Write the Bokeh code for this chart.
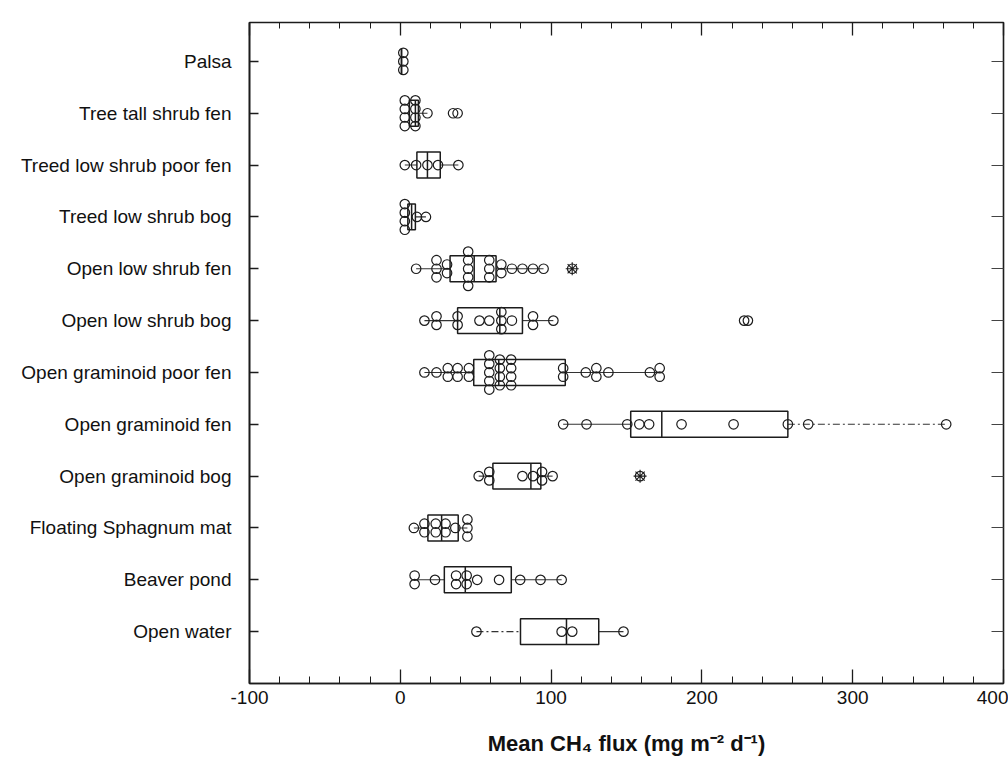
from bokeh.plotting import figure
from bokeh.models import ColumnDataSource, FixedTicker, LinearAxis
from bokeh.embed import file_html
from bokeh.resources import INLINE

# Peatland / water cover classes, top to bottom
categories = [
    "Palsa", "Tree tall shrub fen", "Treed low shrub poor fen", "Treed low shrub bog",
    "Open low shrub fen", "Open low shrub bog", "Open graminoid poor fen",
    "Open graminoid fen", "Open graminoid bog", "Floating Sphagnum mat",
    "Beaver pond", "Open water",
]

# Mean CH4 flux per site (mg m-2 d-1); repeated values are stacked dots
palsa = [2, 2, 2]
tree_tall_shrub_fen = [3, 3, 3, 3, 10, 10, 10, 10, 18, 35, 38]
treed_low_shrub_poor_fen = [3, 10.5, 18, 25, 38.5]
treed_low_shrub_bog = [3, 3, 3, 3, 11, 17]
open_low_shrub_fen = [10.5, 24, 24, 24, 31, 31, 45, 45, 45, 45, 45, 59, 59, 59,
                      67, 67, 74, 81, 88, 95, 114]
open_low_shrub_bog = [16, 24, 24, 38, 38, 52.5, 59, 67, 67, 67, 74, 88, 88, 101.5,
                      228, 230.5]
open_graminoid_poor_fen = [16, 24, 31.5, 31.5, 38, 38, 45.5, 45.5, 59, 59, 59, 59, 59,
                           66, 66, 66, 66, 73.5, 73.5, 73.5, 73.5, 108, 108, 123,
                           130, 130, 138, 165.5, 172, 172]
open_graminoid_fen = [108, 123.5, 150.5, 158.5, 165, 186.5, 221, 257, 270.5, 362]
open_graminoid_bog = [52, 59, 59, 81, 88, 94, 94, 101, 159]
floating_sphagnum_mat = [9, 16, 16, 23.5, 23.5, 30, 30, 36.5, 44.5, 44.5, 44.5]
beaver_pond = [9.5, 9.5, 23, 37, 37, 44, 44, 51, 65.5, 79.5, 93, 107]
open_water = [50.5, 107, 114, 148]

site_values = [palsa, tree_tall_shrub_fen, treed_low_shrub_poor_fen, treed_low_shrub_bog,
               open_low_shrub_fen, open_low_shrub_bog, open_graminoid_poor_fen,
               open_graminoid_fen, open_graminoid_bog, floating_sphagnum_mat,
               beaver_pond, open_water]

# Box-plot summaries (hinges, median, whisker ends)
q1 = [0.8, 6, 11, 5, 33, 38, 48.7, 152.8, 61.4, 18.3, 29.2, 79.7]
median = [0.8, 10, 18, 7.5, 49, 66, 65.3, 173.4, 86.6, 27.4, 43.1, 110.2]
q3 = [0.8, 12, 26.5, 10, 63.5, 81, 109.4, 257, 93.2, 38.4, 73.6, 131.6]
whisker_lo = [0.8, 3, 3, 3, 10.5, 16, 16, 108, 52, 9, 9.5, 50.5]
whisker_hi = [0.8, 18, 38.5, 17, 95, 101.5, 172, 362, 101, 44.5, 107, 148]

# Outside values marked with an asterisk
outside_cat = ["Open low shrub fen", "Open graminoid bog"]
outside_val = [114, 159]

x_ticks = [-100, 0, 100, 200, 300, 400]
x_tick_labels = ["-100", "0", "100", "200", "300", "400"]

INK = "#1c1c1c"
FONT = "Liberation Sans"
STEP = 0.165     # vertical spacing of stacked dots (category units)
HALF_BOX = 0.25  # half height of a box (category units)

n = len(categories)
row_y = {c: n - i for i, c in enumerate(categories)}


def stack(vals, y0):
    """Stack equal values symmetrically about the row centre."""
    vals = sorted(vals)
    groups = []
    for v in vals:
        if groups and abs(v - groups[-1][-1]) < 0.6:
            groups[-1].append(v)
        else:
            groups.append([v])
    xs, ys = [], []
    for g in groups:
        k = len(g)
        for i, v in enumerate(g):
            xs.append(v)
            ys.append(y0 + (i - (k - 1) / 2) * STEP)
    return xs, ys


p = figure(width=1008, height=763, x_range=(-100, 400), y_range=(0, n + 0.75),
           output_backend="svg", toolbar_location=None,
           min_border_left=249, min_border_right=5, min_border_top=22, min_border_bottom=80)
p.grid.visible = False
p.outline_line_color = INK
p.outline_line_width = 1.6
p.background_fill_color = "white"
p.border_fill_color = "white"

ys = [row_y[c] for c in categories]

# whiskers
dash_right = {"Open graminoid fen"}
dash_left = {"Open water"}
solid = dict(x0=[], x1=[], y=[])
dashed = dict(x0=[], x1=[], y=[])
for c, lo, a, b, hi in zip(categories, whisker_lo, q1, q3, whisker_hi):
    y = row_y[c]
    tgt = dashed if c in dash_left else solid
    tgt["x0"].append(lo); tgt["x1"].append(a); tgt["y"].append(y)
    tgt = dashed if c in dash_right else solid
    tgt["x0"].append(b); tgt["x1"].append(hi); tgt["y"].append(y)
p.segment(x0="x0", x1="x1", y0="y", y1="y", source=ColumnDataSource(solid),
          line_color="#333333", line_width=1.1)
p.segment(x0="x0", x1="x1", y0="y", y1="y", source=ColumnDataSource(dashed),
          line_color="#333333", line_width=1.1, line_dash="7 3 2 3")

# boxes and medians
box_src = ColumnDataSource(dict(
    left=q1, right=q3, med=median,
    bottom=[y - HALF_BOX for y in ys], top=[y + HALF_BOX for y in ys]))
p.quad(left="left", right="right", bottom="bottom", top="top", source=box_src,
       fill_color=None, line_color=INK, line_width=1.5)
p.segment(x0="med", x1="med", y0="bottom", y1="top", source=box_src,
          line_color=INK, line_width=1.5)

# individual site dots
px, py = [], []
for c, vals in zip(categories, site_values):
    xs_, ys_ = stack(vals, row_y[c])
    px += xs_
    py += ys_
p.scatter(x=px, y=py, marker="circle", size=9.5, fill_color=None,
          line_color=INK, line_width=1.2)

# outside values
p.scatter(x=outside_val, y=[row_y[c] for c in outside_cat], marker="asterisk",
          size=13, line_color=INK, line_width=1.1)

# bottom axis
xa = p.xaxis[0]
xa.ticker = FixedTicker(ticks=x_ticks, minor_ticks=list(range(-100, 401, 20)))
xa.major_label_overrides = dict(zip(x_ticks, x_tick_labels))
xa.major_tick_in = 14
xa.major_tick_out = 0
xa.minor_tick_in = 7
xa.minor_tick_out = 0
xa.axis_line_color = INK
xa.axis_line_width = 1.6
xa.major_tick_line_color = INK
xa.minor_tick_line_color = INK
xa.major_tick_line_width = 1.3
xa.major_label_text_font = FONT
xa.major_label_text_font_size = "19px"
xa.major_label_text_color = "#111111"
xa.major_label_standoff = 7
xa.axis_label = "Mean CH\u2084 flux (mg m\u207b\u00b2 d\u207b\u00b9)"
xa.axis_label_text_font = FONT
xa.axis_label_text_font_style = "bold"
xa.axis_label_text_font_size = "22px"
xa.axis_label_text_color = "#111111"
xa.axis_label_standoff = 24

# left axis with class names
ya = p.yaxis[0]
ya.ticker = FixedTicker(ticks=ys, minor_ticks=[])
ya.major_label_overrides = {row_y[c]: c for c in categories}
ya.major_tick_in = 9
ya.major_tick_out = 0
ya.axis_line_color = INK
ya.axis_line_width = 1.6
ya.major_tick_line_color = INK
ya.major_tick_line_width = 1.3
ya.major_label_text_font = FONT
ya.major_label_text_font_size = "19px"
ya.major_label_text_color = "#111111"
ya.major_label_standoff = 18

# top and right axes carry inward ticks only (labels switched off)
top = LinearAxis(ticker=FixedTicker(ticks=x_ticks, minor_ticks=list(range(-100, 401, 20))),
                 major_tick_in=13, major_tick_out=0, minor_tick_in=6, minor_tick_out=0,
                 major_label_text_font_size="1px", major_label_text_color=None,
                 major_label_standoff=0,
                 axis_line_color=INK, major_tick_line_color=INK, minor_tick_line_color=INK,
                 major_tick_line_width=1.3)
p.add_layout(top, "above")
right = LinearAxis(ticker=FixedTicker(ticks=ys, minor_ticks=[]),
                   major_tick_in=12, major_tick_out=0, minor_tick_out=0,
                   major_label_text_font_size="1px", major_label_text_color=None,
                   major_label_standoff=0,
                   axis_line_color=INK, major_tick_line_color="#444444")
p.add_layout(right, "right")

open("out.html", "w").write(file_html(p, INLINE))
